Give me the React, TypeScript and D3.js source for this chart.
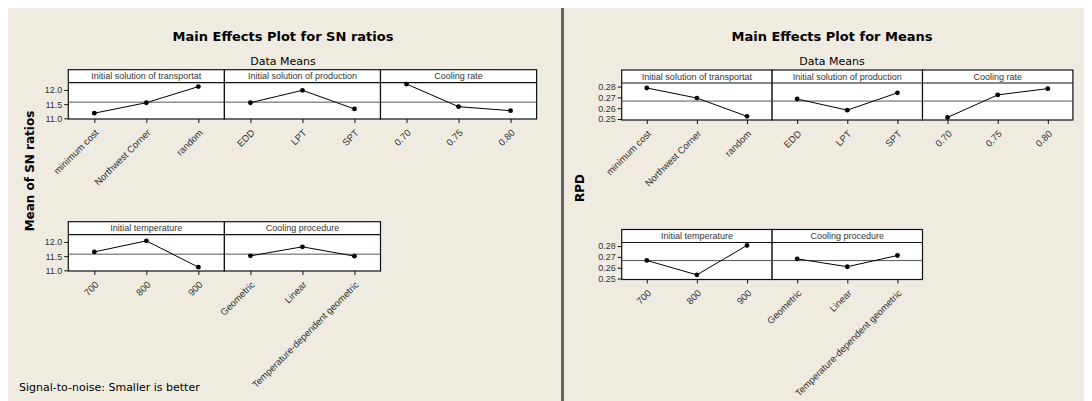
import React, { useRef, useEffect } from "react";
import * as d3 from "d3";

const W = 1092;
const H = 401;
const BG = "#f0ebe1";

// Factor levels
const transportLevels = ["minimum cost", "Northwest Corner", "random"];
const productionLevels = ["EDD", "LPT", "SPT"];
const coolingRateLevels = ["0.70", "0.75", "0.80"];
const tempLevels = ["700", "800", "900"];
const procedureLevels = ["Geometric", "Linear", "Temperature-dependent geometric"];

const factorNames = [
  "Initial solution of transportat",
  "Initial solution of production",
  "Cooling rate",
  "Initial temperature",
  "Cooling procedure",
];

// Mean of SN ratios
const snTransport = [11.18, 11.55, 12.12];
const snProduction = [11.55, 11.99, 11.33];
const snCoolingRate = [12.21, 11.41, 11.27];
const snTemp = [11.65, 12.04, 11.11];
const snProcedure = [11.51, 11.83, 11.5];
const snTicks = [11.0, 11.5, 12.0];
const snMean = 11.57;

// Mean of RPD
const rpdTransport = [0.2787, 0.2694, 0.2525];
const rpdProduction = [0.2685, 0.2582, 0.2742];
const rpdCoolingRate = [0.2515, 0.2723, 0.2781];
const rpdTemp = [0.2667, 0.2534, 0.2806];
const rpdProcedure = [0.2682, 0.2609, 0.2713];
const rpdTicks = [0.25, 0.26, 0.27, 0.28];
const rpdMean = 0.2666;

const levelsList = [transportLevels, productionLevels, coolingRateLevels, tempLevels, procedureLevels];
const gridPos = [[0, 0], [0, 1], [0, 2], [1, 0], [1, 1]];

const charts = [
  {
    title: "Main Effects Plot for SN ratios",
    subtitle: "Data Means",
    yLabel: "Mean of SN ratios",
    footnote: "Signal-to-noise: Smaller is better",
    values: [snTransport, snProduction, snCoolingRate, snTemp, snProcedure],
    ticks: snTicks,
    fmt: ".1f",
    domain: [10.975, 12.258],
    ref: snMean,
    layout: { titleX: 283, left: 68.3, panelW: 156.1, rowTops: [69.7, 221.7], stripH: 13, plotH: 36.3, yLabelX: 30, yLabelY: 171 },
  },
  {
    title: "Main Effects Plot for Means",
    subtitle: "Data Means",
    yLabel: "RPD",
    footnote: "",
    values: [rpdTransport, rpdProduction, rpdCoolingRate, rpdTemp, rpdProcedure],
    ticks: rpdTicks,
    fmt: ".2f",
    domain: [0.2491, 0.2833],
    ref: rpdMean,
    layout: { titleX: 832, left: 621.7, panelW: 150.4, rowTops: [70, 229.5], stripH: 13, plotH: 37, yLabelX: 580, yLabelY: 188 },
  },
];

const SMALL = "'Liberation Sans', Arial, sans-serif";
const TITLE = "'DejaVu Sans', Verdana, sans-serif";

export default function App() {
  const svgRef = useRef<SVGSVGElement | null>(null);

  useEffect(() => {
    if (!svgRef.current) return;
    const svg = d3.select(svgRef.current);
    svg.selectAll("*").remove();

    svg.append("rect").attr("width", W).attr("height", H).attr("fill", BG);

    // outer frames
    svg.append("line").attr("x1", 5).attr("x2", W).attr("y1", 5.5).attr("y2", 5.5).attr("stroke", "#7a7a7a");
    svg.append("line").attr("x1", 5.5).attr("x2", 5.5).attr("y1", 5).attr("y2", H).attr("stroke", "#7a7a7a");
    svg.append("rect").attr("x", 561).attr("y", 5).attr("width", 3).attr("height", H).attr("fill", "#666");

    charts.forEach((c) => {
      const L = c.layout;
      const g = svg.append("g");

      g.append("text")
        .attr("x", L.titleX).attr("y", 41)
        .attr("text-anchor", "middle")
        .attr("font-family", TITLE).attr("font-weight", "bold").attr("font-size", 13)
        .text(c.title);
      g.append("text")
        .attr("x", L.titleX).attr("y", 65)
        .attr("text-anchor", "middle")
        .attr("font-family", TITLE).attr("font-size", 11)
        .text(c.subtitle);

      g.append("text")
        .attr("transform", `translate(${L.yLabelX},${L.yLabelY}) rotate(-90)`)
        .attr("text-anchor", "middle").attr("dy", "0.35em")
        .attr("font-family", TITLE).attr("font-weight", "bold").attr("font-size", 12)
        .text(c.yLabel);

      if (c.footnote) {
        g.append("text")
          .attr("x", 19).attr("y", 391)
          .attr("font-family", TITLE).attr("font-size", 11)
          .text(c.footnote);
      }

      factorNames.forEach((name, i) => {
        const [row, col] = gridPos[i];
        const levels = levelsList[i];
        const vals = c.values[i];
        const x0 = L.left + col * L.panelW;
        const top = L.rowTops[row];
        const plotTop = top + L.stripH;
        const bottom = plotTop + L.plotH;

        const x = d3.scalePoint<string>().domain(levels).range([x0, x0 + L.panelW]).padding(0.5);
        const y = d3.scaleLinear().domain(c.domain).range([bottom, plotTop]);

        g.append("rect")
          .attr("x", x0).attr("y", top)
          .attr("width", L.panelW).attr("height", L.stripH + L.plotH)
          .attr("fill", "#fff").attr("stroke", "#111").attr("stroke-width", 1.2);
        g.append("line")
          .attr("x1", x0).attr("x2", x0 + L.panelW)
          .attr("y1", plotTop).attr("y2", plotTop)
          .attr("stroke", "#111").attr("stroke-width", 1.2);
        g.append("text")
          .attr("x", x0 + L.panelW / 2).attr("y", top + L.stripH / 2)
          .attr("dy", "0.35em").attr("text-anchor", "middle")
          .attr("font-family", SMALL).attr("font-size", 9).attr("fill", "#333")
          .text(name);

        // reference line (overall mean)
        g.append("line")
          .attr("x1", x0).attr("x2", x0 + L.panelW)
          .attr("y1", y(c.ref)).attr("y2", y(c.ref))
          .attr("stroke", "#555").attr("stroke-width", 1);

        const pts: [number, number][] = levels.map((l, k) => [x(l) as number, y(vals[k])]);
        g.append("path")
          .attr("d", d3.line()(pts) as string)
          .attr("fill", "none").attr("stroke", "#000").attr("stroke-width", 1);
        g.selectAll(null)
          .data(pts)
          .enter()
          .append("circle")
          .attr("cx", (d) => d[0]).attr("cy", (d) => d[1])
          .attr("r", 2.4).attr("fill", "#000");

        // x axis
        const ax = g.append("g")
          .attr("transform", `translate(0,${bottom})`)
          .call(d3.axisBottom(x).tickSize(4).tickSizeOuter(0));
        ax.select(".domain").remove();
        ax.selectAll("line").attr("stroke", "#111");
        ax.selectAll("text")
          .attr("y", 0).attr("x", 0).attr("dy", "0.35em")
          .attr("transform", "translate(2,12) rotate(-45)")
          .attr("text-anchor", "end")
          .attr("font-family", SMALL).attr("font-size", 9.5).attr("fill", "#333");

        // y axis on first column only
        if (col === 0) {
          const ay = g.append("g")
            .attr("transform", `translate(${x0},0)`)
            .call(d3.axisLeft(y).tickValues(c.ticks).tickSize(4).tickPadding(2).tickFormat(d3.format(c.fmt)));
          ay.select(".domain").remove();
          ay.selectAll("line").attr("stroke", "#111");
          ay.selectAll("text").attr("font-family", SMALL).attr("font-size", 9).attr("fill", "#333");
        }
      });
    });
  }, []);

  return (
    <div>
      <svg ref={svgRef} width={W} height={H} style={{ display: "block", marginLeft: -8, marginTop: -8 }} />
    </div>
  );
}
